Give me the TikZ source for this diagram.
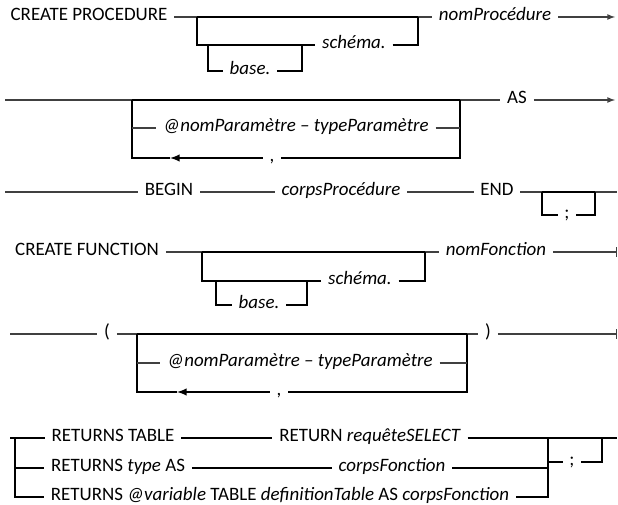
\documentclass[tikz,border=0pt]{standalone}
\usepackage{fontspec}
\setmainfont{Carlito}
\usetikzlibrary{positioning,arrows,calc}

\begin{document}
\begin{tikzpicture}[>=latex,x=0.75pt,y=-0.75pt,
	word/.style={inner xsep=5pt,inner ysep=1pt,text height=8.5pt,text depth=3.5pt,font=\fontsize{14.2}{17}\selectfont},
	track/.style={black!75,line width=1pt},
	loopline/.style={black,line width=1.5pt}]
	\useasboundingbox (0,0) rectangle (618,505);

\node[word] (cproc) at (89,17) {CREATE PROCEDURE};
\node[word] (nomproc) at (495,17) {\textit{nomProcédure}};
\node[word] (schema1) at (354,45) {\textit{schéma.}};
\node[word] (base1) at (250,71) {\textit{base.}};
\coordinate (o1) at (197,17);
\coordinate (c1) at (418,17);
\coordinate (n1) at (208,45);
\coordinate (n2) at (302,45);
\coordinate (e1) at (615,17);
\draw[track] (cproc) -- (o1);
\draw[loopline] (o1) -- (c1);
\draw[track] (c1) -- (nomproc);
\draw[track,->] (nomproc) -- (e1);
\draw[loopline] (o1) |- (schema1);
\draw[loopline] (schema1) -| (c1);
\draw[loopline] (n1) |- (base1);
\draw[loopline] (base1) -| (n2);

\node[word] (as) at (517,100) {AS};
\node[word] (par1) at (296,128) {\textit{@nomParamètre – typeParamètre}};
\node[word] (com1) at (272,158) {,};
\coordinate (s2) at (5,100);
\coordinate (o2) at (132,100);
\coordinate (c2) at (460,100);
\coordinate (b2l) at (132,158);
\coordinate (b2r) at (460,158);
\coordinate (a2) at (170,158);
\coordinate (e2) at (615,100);
\draw[track] (s2) -- (o2);
\draw[loopline] (o2) -- (c2);
\draw[track] (c2) -- (as);
\draw[track,->] (as) -- (e2);
\draw[loopline] (c2) -- (b2r) -- (com1);
\draw[loopline,->] (com1) -- (a2);
\draw[loopline] (a2) -- (b2l) -- (o2);
\draw[track] (o2 |- par1) -- (par1);
\draw[track] (par1) -- (c2 |- par1);

\node[word] (begin) at (169,192) {BEGIN};
\node[word] (corpsproc) at (341,192) {\textit{corpsProcédure}};
\node[word] (end) at (497,192) {END};
\node[word] (semi1) at (567,215) {;};
\coordinate (s3) at (5,192);
\coordinate (o3) at (542,192);
\coordinate (c3) at (595,192);
\coordinate (e3) at (617,192);
\draw[track] (s3) -- (begin);
\draw[track] (begin) -- (corpsproc);
\draw[track] (corpsproc) -- (end);
\draw[track] (end) -- (o3);
\draw[loopline] (o3) -- (c3);
\draw[track] (c3) -- (e3);
\draw[loopline] (o3) |- (semi1);
\draw[loopline] (semi1) -| (c3);

\node[word] (cfunc) at (87,252) {CREATE FUNCTION};
\node[word] (nomfonc) at (496,252) {\textit{nomFonction}};
\node[word] (schema2) at (360,281) {\textit{schéma.}};
\node[word] (base2) at (259,305) {\textit{base.}};
\coordinate (o4) at (202,252);
\coordinate (c4) at (425,252);
\coordinate (n3) at (216,281);
\coordinate (n4) at (307,281);
\coordinate (e4) at (617,252);
\draw[track] (cfunc) -- (o4);
\draw[loopline] (o4) -- (c4);
\draw[track] (c4) -- (nomfonc);
\draw[track,-|] (nomfonc) -- (e4);
\draw[loopline] (o4) |- (schema2);
\draw[loopline] (schema2) -| (c4);
\draw[loopline] (n3) |- (base2);
\draw[loopline] (base2) -| (n4);

\node[word] (lpar) at (107,334) {(};
\node[word] (rpar) at (488,334) {)};
\node[word] (par2) at (300,363) {\textit{@nomParamètre – typeParamètre}};
\node[word] (com2) at (279,392) {,};
\coordinate (s5) at (10,334);
\coordinate (o5) at (137,334);
\coordinate (c5) at (467,334);
\coordinate (b5l) at (137,392);
\coordinate (b5r) at (467,392);
\coordinate (a5) at (177,392);
\coordinate (e5) at (617,334);
\draw[track] (s5) -- (lpar);
\draw[track] (lpar) -- (o5);
\draw[loopline] (o5) -- (c5);
\draw[track] (c5) -- (rpar);
\draw[track,-|] (rpar) -- (e5);
\draw[loopline] (c5) -- (b5r) -- (com2);
\draw[loopline,->] (com2) -- (a5);
\draw[loopline] (a5) -- (b5l) -- (o5);
\draw[track] (o5 |- par2) -- (par2);
\draw[track] (par2) -- (c5 |- par2);

\node[word] (rta) at (113,438) {RETURNS TABLE};
\node[word] (rtn) at (370,438) {RETURN \textit{requêteSELECT}};
\node[word] (rtb) at (118,468) {RETURNS \textit{type} AS};
\node[word] (cf1) at (392,468) {\textit{corpsFonction}};
\node[word] (rtc) at (280,497) {RETURNS \textit{@variable} TABLE \textit{definitionTable} AS \textit{corpsFonction}};
\node[word] (semi2) at (572,462) {;};
\coordinate (s6) at (10,438);
\coordinate (v6) at (15,438);
\coordinate (j6) at (548,438);
\coordinate (c6) at (602,438);
\coordinate (e6) at (617,438);
\draw[loopline] (s6) -- (v6) |- (rtc);
\draw[loopline] (v6) -- (rta);
\draw[loopline] (v6 |- rtb) -- (rtb);
\draw[loopline] (rta) -- (rtn);
\draw[loopline] (rtn) -- (e6);
\draw[loopline] (rtb) -- (cf1);
\draw[loopline] (cf1) -- (j6 |- cf1);
\draw[loopline] (rtc) -| (j6);
\draw[loopline] (j6 |- semi2) -- (semi2);
\draw[loopline] (semi2) -| (c6);
\end{tikzpicture}
\end{document}
